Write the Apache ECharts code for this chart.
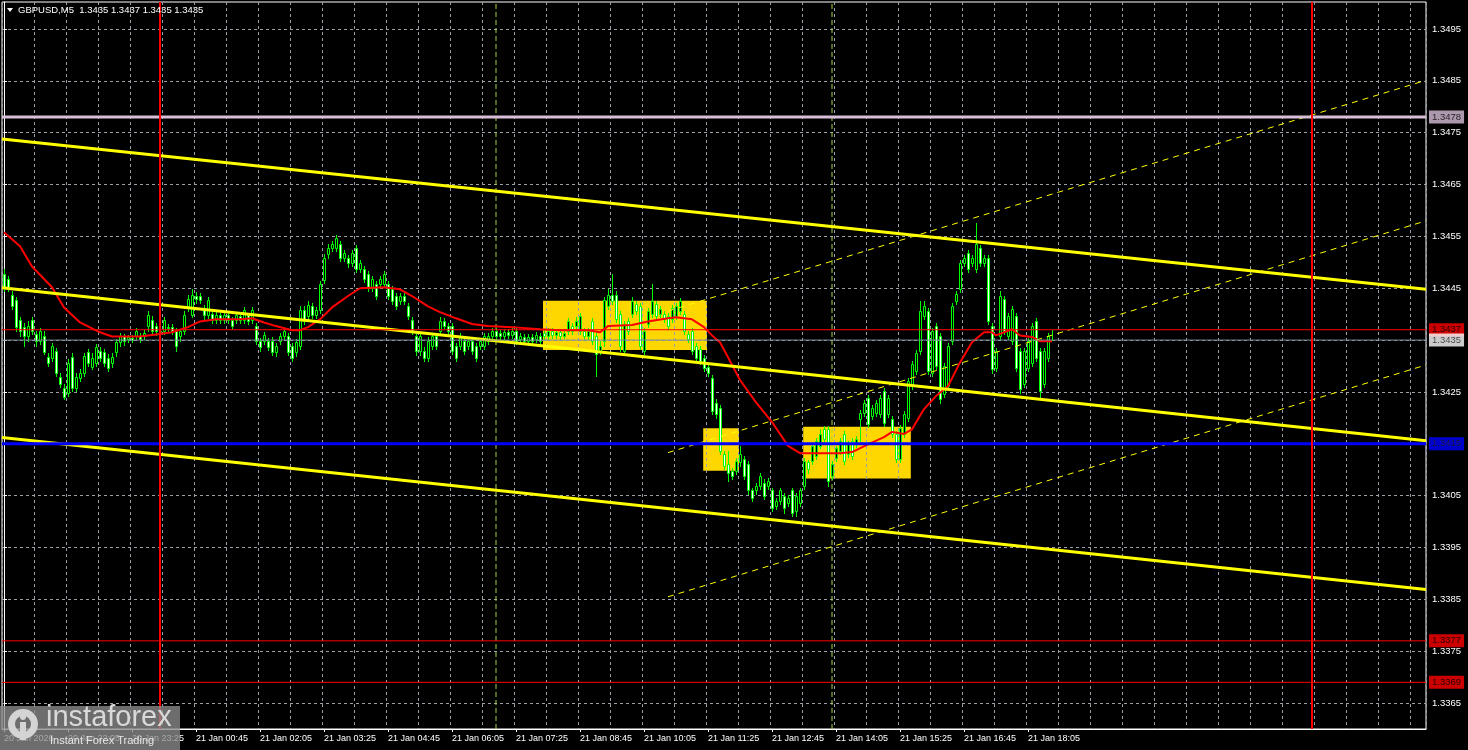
<!DOCTYPE html>
<html><head><meta charset="utf-8">
<script src="https://cdn.jsdelivr.net/npm/echarts@6/dist/echarts.min.js"></script>
<style>html,body{margin:0;padding:0;background:#000;}#c{width:1468px;height:750px;}</style>
</head><body><div id="c"></div>
<script>
// ---- data ----
const tickLabels = ["20 Jan 2026","20 Jan 22:05","20 Jan 23:25","21 Jan 00:45","21 Jan 02:05","21 Jan 03:25","21 Jan 04:45","21 Jan 06:05","21 Jan 07:25","21 Jan 08:45","21 Jan 10:05","21 Jan 11:25","21 Jan 12:45","21 Jan 14:05","21 Jan 15:25","21 Jan 16:45","21 Jan 18:05"];
const priceTicks = [1.3365,1.3375,1.3385,1.3395,1.3405,1.3415,1.3425,1.3435,1.3445,1.3455,1.3465,1.3475,1.3485,1.3495];
const barCount = 356;
// open, close, low, high (M5 bars from 20 Jan 20:45)
const ohlc = [
[1.34478,1.34453,1.34445,1.34487],[1.34468,1.34451,1.34445,1.34474],[1.34437,1.34416,1.34410,1.34445],[1.34427,1.34375,1.34368,1.34433],[1.34389,1.34368,1.34358,1.34395],
[1.34375,1.34358,1.34339,1.34383],[1.34358,1.34377,1.34349,1.34387],[1.34389,1.34368,1.34362,1.34395],[1.34362,1.34349,1.34339,1.34368],[1.34349,1.34368,1.34343,1.34374],
[1.34358,1.34327,1.34323,1.34368],[1.34318,1.34306,1.34300,1.34325],[1.34316,1.34339,1.34310,1.34345],[1.34329,1.34287,1.34281,1.34335],[1.34279,1.34266,1.34260,1.34287],
[1.34258,1.34241,1.34237,1.34266],[1.34248,1.34306,1.34243,1.34314],[1.34318,1.34258,1.34252,1.34325],[1.34258,1.34279,1.34252,1.34287],[1.34277,1.34287,1.34271,1.34295],
[1.34287,1.34320,1.34281,1.34325],[1.34327,1.34306,1.34300,1.34333],[1.34298,1.34316,1.34295,1.34325],[1.34306,1.34337,1.34300,1.34343],[1.34329,1.34316,1.34310,1.34337],
[1.34327,1.34306,1.34300,1.34333],[1.34316,1.34297,1.34291,1.34323],[1.34306,1.34318,1.34298,1.34325],[1.34327,1.34347,1.34320,1.34352],[1.34347,1.34358,1.34339,1.34364],
[1.34358,1.34349,1.34341,1.34362],[1.34352,1.34356,1.34347,1.34360],[1.34354,1.34350,1.34346,1.34360],[1.34358,1.34368,1.34352,1.34374],[1.34358,1.34352,1.34347,1.34364],
[1.34358,1.34364,1.34352,1.34370],[1.34377,1.34399,1.34368,1.34406],[1.34389,1.34368,1.34362,1.34397],[1.34377,1.34368,1.34360,1.34383],[1.34368,1.34366,1.34360,1.34374],
[1.34368,1.34389,1.34362,1.34395],[1.34375,1.34374,1.34368,1.34381],[1.34375,1.34368,1.34362,1.34381],[1.34368,1.34339,1.34329,1.34374],[1.34358,1.34368,1.34349,1.34372],
[1.34368,1.34399,1.34362,1.34406],[1.34412,1.34429,1.34406,1.34437],[1.34399,1.34437,1.34395,1.34449],[1.34435,1.34429,1.34422,1.34443],[1.34435,1.34427,1.34422,1.34441],
[1.34410,1.34399,1.34391,1.34418],[1.34399,1.34427,1.34393,1.34433],[1.34401,1.34389,1.34383,1.34406],[1.34389,1.34399,1.34383,1.34406],[1.34399,1.34389,1.34383,1.34402],
[1.34389,1.34399,1.34383,1.34406],[1.34399,1.34389,1.34383,1.34402],[1.34389,1.34377,1.34372,1.34395],[1.34389,1.34399,1.34383,1.34402],[1.34397,1.34389,1.34383,1.34402],
[1.34389,1.34408,1.34383,1.34414],[1.34399,1.34387,1.34381,1.34402],[1.34389,1.34408,1.34383,1.34414],[1.34377,1.34349,1.34343,1.34383],[1.34349,1.34337,1.34329,1.34354],
[1.34349,1.34360,1.34343,1.34366],[1.34349,1.34337,1.34331,1.34354],[1.34349,1.34327,1.34322,1.34356],[1.34327,1.34339,1.34320,1.34345],[1.34349,1.34358,1.34343,1.34364],
[1.34358,1.34368,1.34352,1.34374],[1.34358,1.34327,1.34322,1.34364],[1.34339,1.34316,1.34310,1.34345],[1.34327,1.34347,1.34320,1.34352],[1.34339,1.34408,1.34333,1.34416],
[1.34408,1.34387,1.34381,1.34416],[1.34397,1.34418,1.34391,1.34426],[1.34416,1.34399,1.34393,1.34422],[1.34399,1.34408,1.34393,1.34414],[1.34408,1.34458,1.34402,1.34464],
[1.34466,1.34508,1.34460,1.34516],[1.34516,1.34528,1.34508,1.34535],[1.34528,1.34535,1.34522,1.34541],[1.34528,1.34547,1.34522,1.34553],[1.34535,1.34508,1.34503,1.34541],
[1.34508,1.34518,1.34503,1.34524],[1.34508,1.34499,1.34491,1.34514],[1.34499,1.34518,1.34493,1.34524],[1.34528,1.34487,1.34481,1.34533],[1.34487,1.34499,1.34481,1.34505],
[1.34487,1.34468,1.34462,1.34493],[1.34478,1.34451,1.34445,1.34483],[1.34451,1.34468,1.34445,1.34474],[1.34458,1.34435,1.34429,1.34464],[1.34458,1.34468,1.34453,1.34474],
[1.34458,1.34478,1.34453,1.34483],[1.34458,1.34435,1.34429,1.34464],[1.34449,1.34426,1.34420,1.34454],[1.34435,1.34416,1.34410,1.34441],[1.34426,1.34435,1.34420,1.34441],
[1.34435,1.34426,1.34420,1.34441],[1.34416,1.34397,1.34391,1.34422],[1.34389,1.34368,1.34362,1.34395],[1.34358,1.34329,1.34322,1.34364],[1.34329,1.34358,1.34322,1.34364],
[1.34329,1.34316,1.34310,1.34337],[1.34316,1.34349,1.34310,1.34356],[1.34339,1.34358,1.34333,1.34364],[1.34358,1.34339,1.34333,1.34364],[1.34368,1.34387,1.34362,1.34395],
[1.34387,1.34377,1.34372,1.34393],[1.34377,1.34368,1.34362,1.34383],[1.34377,1.34329,1.34323,1.34383],[1.34339,1.34316,1.34310,1.34345],[1.34339,1.34358,1.34333,1.34364],
[1.34349,1.34329,1.34323,1.34354],[1.34339,1.34349,1.34333,1.34354],[1.34349,1.34329,1.34323,1.34354],[1.34339,1.34316,1.34310,1.34345],[1.34339,1.34349,1.34333,1.34354],
[1.34339,1.34358,1.34333,1.34364],[1.34349,1.34358,1.34343,1.34364],[1.34358,1.34368,1.34352,1.34374],[1.34368,1.34358,1.34352,1.34374],[1.34364,1.34358,1.34352,1.34370],
[1.34358,1.34366,1.34352,1.34372],[1.34366,1.34360,1.34354,1.34372],[1.34360,1.34368,1.34354,1.34374],[1.34368,1.34349,1.34343,1.34374],[1.34352,1.34358,1.34347,1.34364],
[1.34356,1.34349,1.34343,1.34362],[1.34349,1.34356,1.34343,1.34362],[1.34356,1.34349,1.34343,1.34362],[1.34352,1.34360,1.34347,1.34366],[1.34358,1.34349,1.34343,1.34364],
[1.34364,1.34358,1.34352,1.34372],[1.34358,1.34368,1.34352,1.34374],[1.34368,1.34360,1.34354,1.34374],[1.34360,1.34366,1.34354,1.34372],[1.34366,1.34358,1.34352,1.34372],
[1.34358,1.34364,1.34354,1.34370],[1.34368,1.34387,1.34362,1.34393],[1.34377,1.34368,1.34362,1.34383],[1.34377,1.34387,1.34372,1.34395],[1.34368,1.34397,1.34362,1.34402],
[1.34368,1.34358,1.34352,1.34374],[1.34358,1.34368,1.34352,1.34374],[1.34387,1.34349,1.34343,1.34393],[1.34358,1.34323,1.34281,1.34364],[1.34329,1.34339,1.34323,1.34349],
[1.34349,1.34427,1.34339,1.34433],[1.34416,1.34437,1.34410,1.34449],[1.34437,1.34426,1.34420,1.34478],[1.34437,1.34391,1.34385,1.34445],[1.34401,1.34339,1.34329,1.34406],
[1.34329,1.34381,1.34323,1.34387],[1.34387,1.34368,1.34362,1.34393],[1.34401,1.34426,1.34395,1.34433],[1.34420,1.34406,1.34401,1.34426],[1.34416,1.34339,1.34333,1.34422],
[1.34329,1.34368,1.34323,1.34374],[1.34381,1.34406,1.34375,1.34412],[1.34401,1.34426,1.34395,1.34458],[1.34420,1.34397,1.34391,1.34426],[1.34401,1.34410,1.34395,1.34416],
[1.34401,1.34391,1.34385,1.34406],[1.34397,1.34377,1.34372,1.34402],[1.34391,1.34412,1.34385,1.34418],[1.34397,1.34416,1.34391,1.34422],[1.34406,1.34426,1.34401,1.34431],
[1.34401,1.34368,1.34362,1.34406],[1.34362,1.34352,1.34347,1.34368],[1.34368,1.34329,1.34323,1.34374],[1.34339,1.34316,1.34310,1.34345],[1.34333,1.34310,1.34304,1.34339],
[1.34316,1.34297,1.34291,1.34322],[1.34298,1.34287,1.34281,1.34304],[1.34277,1.34214,1.34208,1.34283],[1.34229,1.34208,1.34200,1.34237],[1.34219,1.34137,1.34131,1.34225],
[1.34131,1.34108,1.34102,1.34137],[1.34112,1.34094,1.34079,1.34137],[1.34098,1.34088,1.34083,1.34104],[1.34098,1.34117,1.34092,1.34123],[1.34114,1.34131,1.34108,1.34146],
[1.34121,1.34088,1.34083,1.34127],[1.34112,1.34060,1.34054,1.34117],[1.34060,1.34046,1.34040,1.34065],[1.34060,1.34069,1.34054,1.34075],[1.34069,1.34088,1.34063,1.34094],
[1.34075,1.34050,1.34044,1.34083],[1.34069,1.34079,1.34063,1.34085],[1.34060,1.34027,1.34021,1.34065],[1.34031,1.34040,1.34025,1.34046],[1.34040,1.34060,1.34034,1.34065],
[1.34050,1.34027,1.34017,1.34056],[1.34036,1.34046,1.34031,1.34052],[1.34060,1.34017,1.34011,1.34065],[1.34021,1.34050,1.34011,1.34056],[1.34036,1.34060,1.34031,1.34065],
[1.34069,1.34117,1.34063,1.34123],[1.34114,1.34102,1.34094,1.34119],[1.34117,1.34146,1.34112,1.34152],[1.34127,1.34156,1.34121,1.34162],[1.34146,1.34169,1.34141,1.34179],
[1.34179,1.34160,1.34154,1.34185],[1.34179,1.34079,1.34069,1.34185],[1.34088,1.34112,1.34083,1.34117],[1.34123,1.34141,1.34117,1.34146],[1.34137,1.34156,1.34131,1.34162],
[1.34169,1.34117,1.34112,1.34175],[1.34131,1.34150,1.34125,1.34156],[1.34156,1.34127,1.34121,1.34162],[1.34150,1.34160,1.34144,1.34166],[1.34198,1.34210,1.34156,1.34216],
[1.34210,1.34229,1.34204,1.34235],[1.34239,1.34189,1.34183,1.34245],[1.34204,1.34219,1.34198,1.34225],[1.34210,1.34229,1.34204,1.34235],[1.34208,1.34239,1.34202,1.34245],
[1.34252,1.34190,1.34185,1.34258],[1.34208,1.34239,1.34202,1.34245],[1.34198,1.34169,1.34164,1.34204],[1.34169,1.34121,1.34114,1.34175],[1.34121,1.34181,1.34114,1.34187],
[1.34169,1.34208,1.34164,1.34214],[1.34200,1.34271,1.34194,1.34277],[1.34262,1.34304,1.34256,1.34310],[1.34291,1.34325,1.34285,1.34331],[1.34329,1.34406,1.34323,1.34426],
[1.34397,1.34416,1.34391,1.34426],[1.34406,1.34291,1.34285,1.34412],[1.34287,1.34368,1.34281,1.34374],[1.34377,1.34300,1.34295,1.34383],[1.34358,1.34237,1.34229,1.34364],
[1.34246,1.34300,1.34241,1.34306],[1.34262,1.34339,1.34256,1.34345],[1.34349,1.34416,1.34343,1.34422],[1.34426,1.34439,1.34420,1.34445],[1.34449,1.34499,1.34443,1.34505],
[1.34499,1.34508,1.34493,1.34514],[1.34518,1.34487,1.34481,1.34524],[1.34499,1.34508,1.34493,1.34514],[1.34487,1.34535,1.34481,1.34576],[1.34528,1.34499,1.34493,1.34533],
[1.34499,1.34508,1.34493,1.34514],[1.34508,1.34387,1.34381,1.34514],[1.34377,1.34295,1.34287,1.34383],[1.34297,1.34329,1.34291,1.34335],[1.34358,1.34435,1.34352,1.34445],
[1.34429,1.34368,1.34362,1.34435],[1.34358,1.34397,1.34352,1.34402],[1.34349,1.34410,1.34343,1.34416],[1.34397,1.34297,1.34291,1.34402],[1.34329,1.34256,1.34248,1.34335],
[1.34266,1.34329,1.34260,1.34335],[1.34297,1.34349,1.34291,1.34354],[1.34306,1.34377,1.34300,1.34383],[1.34387,1.34316,1.34310,1.34393],[1.34329,1.34252,1.34239,1.34335],
[1.34266,1.34329,1.34260,1.34335],[1.34316,1.34358,1.34310,1.34364],[1.34350,1.34350,1.34350,1.34370]
];
// moving average (red) read at sampled bars
const maBars = [0,4,7,12,15,19,24,27,34,38,42,46,49,53,59,62,65,68,72,74,76,79,82,86,89,95,99,102,106,109,113,117,121,127,134,139,146,149,151,157,161,166,168,172,175,177,179,181,184,188,192,196,199,204,209,212,216,220,222,225,227,230,233,236,239,242,245,247,248,252,254,257,259,262];
const maValues = [1.34558,1.34531,1.34492,1.34452,1.34413,1.34384,1.34365,1.34357,1.34357,1.34361,1.34365,1.34375,1.34386,1.34390,1.34390,1.34392,1.34384,1.34377,1.34369,1.34369,1.34375,1.34390,1.34413,1.34435,1.34450,1.34452,1.34448,1.34435,1.34415,1.34404,1.34392,1.34381,1.34377,1.34375,1.34371,1.34369,1.34369,1.34365,1.34377,1.34379,1.34386,1.34392,1.34394,1.34390,1.34375,1.34359,1.34346,1.34317,1.34273,1.34230,1.34192,1.34146,1.34132,1.34132,1.34132,1.34134,1.34149,1.34163,1.34173,1.34169,1.34178,1.34217,1.34242,1.34261,1.34307,1.34346,1.34365,1.34365,1.34359,1.34371,1.34359,1.34356,1.34348,1.34348];
// trend channel (bar index, price) pairs
const channelLines = [[-0.5,1.34738,355.5,1.34448],[-0.5,1.34451,355.5,1.34156],[-0.5,1.34162,355.5,1.33869]];
const dashedLines = [[166,1.34406,355.5,1.34851],[166,1.34133,355.5,1.34580],[166,1.33855,355.5,1.34302]];
// zones: bar from, bar to, price top, price bottom
const zones = [[134.75,175.75,1.34426,1.34331],[174.8,183.75,1.34180,1.34098],[199.8,226.7,1.34183,1.34083]];
const levelPrices = [1.3478,1.3437,1.3435,1.3415,1.3377,1.3369];
const dayBars = [39,327];
const sessionBars = [123,207];

// ---- styles ----
const FONT = '"Liberation Sans", Arial, sans-serif';
const levelStyles = [
  {line:'#d8bfd8', w:3, bg:'#d8bfd8', fg:'#000'},
  {line:'#ff0000', w:1, bg:'#ff0000', fg:'#000'},
  {line:'#7a8a9a', w:1, bg:'#ffffff', fg:'#000'},
  {line:'#0000ff', w:3, bg:'#0000ff', fg:'#000'},
  {line:'#ff0000', w:1, bg:'#ff0000', fg:'#000'},
  {line:'#ff0000', w:1, bg:'#ff0000', fg:'#000'}
];
const GRID = '#9aa0a6';
const CANDLE = '#00ff00';
const Y_MIN = 1.3360, Y_MAX = 1.35002, X_MIN = -0.5, X_MAX = 355.5;
const cats = Array.from({length: barCount}, (_, i) => String(i));

const chart = echarts.init(document.getElementById('c'), null, {renderer: 'canvas'});
const series = [];
series.push({
  type: 'custom', xAxisIndex: 1, yAxisIndex: 0, z: -1, silent: true, data: zones,
  encode: {x: [0, 1], y: [2, 3]},
  renderItem: (params, api) => {
    const a = api.coord([api.value(0), api.value(2)]);
    const b = api.coord([api.value(1), api.value(3)]);
    return {type: 'rect', shape: {x: a[0], y: a[1], width: b[0] - a[0], height: b[1] - a[1]}, style: {fill: '#ffd700'}};
  }
});
// candles: crisp MT4-like bars (custom series through the category/value scales)
series.push({
  type: 'custom', xAxisIndex: 0, yAxisIndex: 0, z: 2, silent: true,
  data: ohlc.map((r, i) => [i, r[0], r[1], r[2], r[3]]),
  encode: {x: 0, y: [1, 2, 3, 4]},
  renderItem: (params, api) => {
    const i = api.value(0), o = api.value(1), c = api.value(2), l = api.value(3), h = api.value(4);
    const pO = api.coord([i, o]), pC = api.coord([i, c]), pL = api.coord([i, l]), pH = api.coord([i, h]);
    const cx = Math.round(pO[0]);
    const top = Math.round(Math.min(pO[1], pC[1]));
    const bot = Math.round(Math.max(pO[1], pC[1]));
    return {type: 'group', children: [
      {type: 'rect', shape: {x: cx, y: Math.round(pH[1]), width: 1, height: Math.round(pL[1]) - Math.round(pH[1]) + 1}, style: {fill: CANDLE}},
      {type: 'rect', shape: {x: cx - 0.5, y: top + 0.5, width: 2, height: Math.max(bot - top, 0)},
       style: {fill: c > o ? '#000000' : '#ffffff', stroke: CANDLE, lineWidth: 1}}
    ]};
  }
});
series.push({
  type: 'line', xAxisIndex: 1, yAxisIndex: 0, data: maBars.map((b, i) => [b, maValues[i]]),
  symbol: 'none', showSymbol: false, lineStyle: {color: '#ff0000', width: 2}, z: 3, silent: true
});
channelLines.forEach(l => series.push({
  type: 'line', xAxisIndex: 1, data: [[l[0], l[1]], [l[2], l[3]]], symbol: 'none',
  lineStyle: {color: '#ffff00', width: 3}, z: 4, silent: true
}));
dashedLines.forEach(l => series.push({
  type: 'line', xAxisIndex: 1, data: [[l[0], l[1]], [l[2], l[3]]], symbol: 'none',
  lineStyle: {color: '#ffff00', width: 1, type: [6, 5]}, z: 4, silent: true
}));
// horizontal levels
levelPrices.forEach((p, i) => series.push({
  type: 'line', xAxisIndex: 1, data: [[X_MIN, p], [X_MAX, p]], symbol: 'none',
  lineStyle: {color: levelStyles[i].line, width: levelStyles[i].w}, z: 5, silent: true
}));
// price tags on the right
series.push({
  type: 'scatter', xAxisIndex: 1, yAxisIndex: 0, z: 8, silent: true, symbolSize: 0, clip: false,
  data: levelPrices.map((p, i) => ({
    value: [X_MAX, p],
    label: {backgroundColor: levelStyles[i].bg, color: levelStyles[i].fg}
  })),
  label: {
    show: true, position: 'right', distance: 3,
    formatter: (prm) => levelPrices[prm.dataIndex].toFixed(4),
    fontSize: 9.5, fontFamily: FONT, padding: [2, 3, 1, 3], lineHeight: 10
  },
  itemStyle: {color: 'transparent'},
  emphasis: {disabled: true}
});
// vertical lines
dayBars.forEach(b => series.push({
  type: 'line', xAxisIndex: 1, data: [[b, Y_MIN], [b, Y_MAX]], symbol: 'none',
  lineStyle: {color: '#ff0000', width: 2}, z: 6, silent: true
}));
sessionBars.forEach(b => series.push({
  type: 'line', xAxisIndex: 1, data: [[b, Y_MIN], [b, Y_MAX]], symbol: 'none',
  lineStyle: {color: '#a6d83a', width: 1, type: [5, 3]}, z: 1, silent: true
}));

const option = {
  backgroundColor: '#000000',
  animation: false,
  grid: {left: 2, right: 42, top: 2, bottom: 21, show: true, borderColor: '#ffffff', borderWidth: 1, backgroundColor: 'transparent'},
  xAxis: [{
    type: 'category', data: cats, boundaryGap: true,
    axisLine: {show: true, lineStyle: {color: '#ffffff', width: 1}},
    axisTick: {show: true, alignWithLabel: true, interval: (i) => i % 16 === 0 && i <= 256, length: 3, lineStyle: {color: '#ffffff'}},
    axisLabel: {interval: (i) => i % 16 === 0 && i <= 256, formatter: (v, i) => tickLabels[i / 16] || '',
                color: '#ffffff', fontSize: 9, fontFamily: FONT, align: 'left', margin: 5},
    splitLine: {show: true, interval: (i) => i % 8 === 0, lineStyle: {color: GRID, type: [3, 3], width: 1}}
  }, {
    type: 'value', min: X_MIN, max: X_MAX, show: false
  }],
  yAxis: [{
    type: 'value', position: 'right', min: Y_MIN, max: Y_MAX, scale: true,
    axisLine: {show: true, lineStyle: {color: '#ffffff'}},
    axisTick: {show: true, customValues: priceTicks, length: 3, lineStyle: {color: '#ffffff'}},
    axisLabel: {customValues: priceTicks, formatter: v => v.toFixed(4), color: '#ffffff', fontSize: 9.5, fontFamily: FONT, margin: 6},
    splitLine: {show: true, lineStyle: {color: GRID, type: [3, 3], width: 1}}
  }],
  series: series,
  graphic: [
    {type: 'polygon', z: 10, shape: {points: [[7, 8], [13, 8], [10, 12]]}, style: {fill: '#ffffff'}},
    {type: 'text', z: 10, x: 18, y: 5, style: {text: 'GBPUSD,M5  1.3435 1.3437 1.3435 1.3435', fill: '#ffffff', fontSize: 9.5, fontFamily: FONT}},
    {type: 'rect', z: 10, shape: {x: 0, y: 706, width: 180, height: 44}, style: {fill: 'rgba(140,140,140,0.78)'}},
    {type: 'ring', z: 11, shape: {cx: 23, cy: 724, r: 15, r0: 8}, style: {fill: '#d4d4d4'}},
    {type: 'circle', z: 11, shape: {cx: 23, cy: 717, r: 3}, style: {fill: '#d4d4d4'}},
    {type: 'rect', z: 11, shape: {x: 20, y: 722, width: 6, height: 18}, style: {fill: '#d4d4d4'}},
    {type: 'text', z: 11, x: 46, y: 703, style: {text: 'instaforex', fill: '#d9d9d9', fontSize: 29, fontFamily: FONT}},
    {type: 'text', z: 11, x: 50, y: 735, style: {text: 'Instant Forex Trading', fill: '#e6e6e6', fontSize: 11, fontFamily: FONT}}
  ]
};
chart.setOption(option);
</script>
</body></html>
